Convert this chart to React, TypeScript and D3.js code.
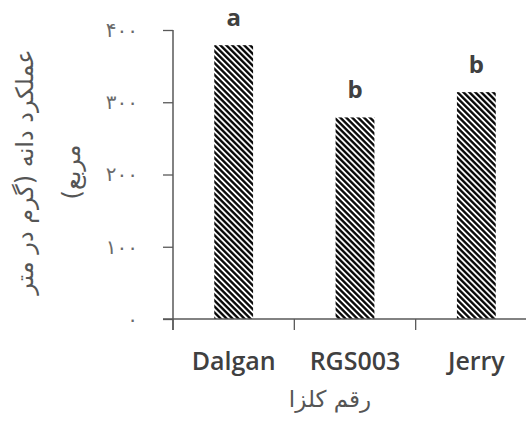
import React, { useEffect, useRef } from 'react';
import * as d3 from 'd3';

const categories = ['Dalgan', 'RGS003', 'Jerry'];
const yieldValues = [379, 279, 314];
const groupLetters = ['a', 'b', 'b'];
const yTicks = [0, 100, 200, 300, 400];
const yTickLabels = ['۰', '۱۰۰', '۲۰۰', '۳۰۰', '۴۰۰'];
const yTitleLines = ['عملکرد دانه (گرم در متر', 'مربع)'];
const xTitle = 'رقم کلزا';

const W = 526;
const H = 421;
const margin = { top: 30, right: -11, bottom: 102, left: 173 };

const App = () => {
    const ref = useRef<SVGSVGElement>(null);

    useEffect(() => {
        const svg = d3.select(ref.current);
        svg.selectAll('*').remove();

        const innerH = H - margin.top - margin.bottom;

        // hatch pattern for the bars
        const p = 4.2;
        const defs = svg.append('defs');
        const pat = defs.append('pattern')
            .attr('id', 'hatch')
            .attr('patternUnits', 'userSpaceOnUse')
            .attr('width', p)
            .attr('height', p)
            .attr('patternTransform', 'rotate(-45)');
        pat.append('rect').attr('width', p).attr('height', p).attr('fill', '#fff');
        pat.append('line')
            .attr('x1', p / 2).attr('y1', 0).attr('x2', p / 2).attr('y2', p)
            .attr('stroke', '#000').attr('stroke-width', 2.3);

        const x = d3.scaleBand()
            .domain(categories)
            .range([margin.left, W - margin.right])
            .paddingInner(0.68)
            .paddingOuter(0.34);

        const y = d3.scaleLinear()
            .domain([0, 400])
            .range([margin.top + innerH, margin.top]);

        // bars
        svg.selectAll('rect.bar')
            .data(categories)
            .enter()
            .append('rect')
            .attr('class', 'bar')
            .attr('x', (d) => x(d)!)
            .attr('y', (d, i) => y(yieldValues[i]))
            .attr('width', x.bandwidth())
            .attr('height', (d, i) => y(0) - y(yieldValues[i]))
            .attr('fill', 'url(#hatch)');

        // letters above bars
        svg.selectAll('text.letter')
            .data(categories)
            .enter()
            .append('text')
            .attr('class', 'letter')
            .attr('x', (d) => x(d)! + x.bandwidth() / 2)
            .attr('y', (d, i) => y(yieldValues[i]) - 19)
            .attr('text-anchor', 'middle')
            .attr('font-family', 'Open Sans, sans-serif')
            .attr('font-weight', 700)
            .attr('font-size', 24)
            .attr('fill', '#404040')
            .text((d, i) => groupLetters[i]);

        const axisColor = '#595959';

        // y axis
        const yAxis = svg.append('g')
            .attr('transform', `translate(${margin.left},0)`)
            .call(d3.axisLeft(y).tickValues(yTicks).tickSize(10)
                .tickFormat((d, i) => yTickLabels[i]));
        yAxis.select('.domain').remove();
        yAxis.selectAll('line').attr('stroke', axisColor).attr('stroke-width', 1.3);
        yAxis.selectAll('text')
            .attr('x', -35)
            .attr('fill', '#6a6a6a')
            .attr('font-size', 20)
            .attr('font-family', 'DejaVu Sans, sans-serif');
        svg.append('line')
            .attr('x1', margin.left).attr('x2', margin.left)
            .attr('y1', margin.top).attr('y2', y(0) + 11)
            .attr('stroke', axisColor).attr('stroke-width', 1.5);

        // x axis
        const xAxisG = svg.append('g').attr('transform', `translate(0,${y(0)})`);
        xAxisG.append('line')
            .attr('x1', margin.left - 10).attr('x2', W)
            .attr('stroke', axisColor).attr('stroke-width', 1.5);
        const step = x.step();
        xAxisG.selectAll('line.tick')
            .data(d3.range(categories.length + 1))
            .enter()
            .append('line')
            .attr('class', 'tick')
            .attr('x1', (i) => margin.left + i * step)
            .attr('x2', (i) => margin.left + i * step)
            .attr('y1', 0).attr('y2', 11)
            .attr('stroke', axisColor).attr('stroke-width', 1.3);
        xAxisG.selectAll('text')
            .data(categories)
            .enter()
            .append('text')
            .attr('x', (d) => x(d)! + x.bandwidth() / 2)
            .attr('y', 51)
            .attr('text-anchor', 'middle')
            .attr('font-family', 'Open Sans, sans-serif')
            .attr('font-weight', 600)
            .attr('font-size', 25)
            .attr('fill', '#404040')
            .text((d) => d);

        // x title
        svg.append('text')
            .attr('x', 330)
            .attr('y', 407)
            .attr('text-anchor', 'middle')
            .attr('direction', 'rtl')
            .attr('font-family', 'DejaVu Sans, sans-serif')
            .attr('font-size', 23)
            .attr('fill', '#555')
            .text(xTitle);

        // y title (two lines)
        svg.selectAll('text.ytitle')
            .data(yTitleLines)
            .enter()
            .append('text')
            .attr('class', 'ytitle')
            .attr('transform', (d, i) => `translate(${33 + i * 47},172) rotate(-90)`)
            .attr('text-anchor', 'middle')
            .attr('direction', 'rtl')
            .attr('font-family', 'DejaVu Sans, sans-serif')
            .attr('font-size', 24)
            .attr('fill', '#555')
            .text((d) => d);
    }, []);

    return (
        <svg ref={ref} width={W} height={H}
            style={{ position: 'absolute', left: 0, top: 0, background: '#fff' }} />
    );
};

export default App;
